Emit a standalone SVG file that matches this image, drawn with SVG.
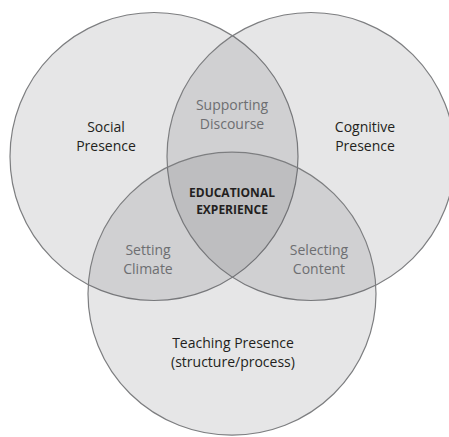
<svg xmlns="http://www.w3.org/2000/svg" width="449" height="437" viewBox="0 0 449 437">
<style>
.c{fill:#58595b;fill-opacity:0.15;stroke:#7d7e80;stroke-width:1.2}
text{font-family:"Open Sans","Noto Sans","Liberation Sans",sans-serif;text-anchor:middle}
.m{font-size:14px;fill:#231f20}
.s{font-size:14px;fill:#6d6e71}
.b{font-size:12px;font-weight:bold;fill:#231f20}
</style>
<rect width="449" height="437" fill="#ffffff"/>
<g id="social"><circle class="c" cx="154" cy="156.5" r="144"/></g>
<g id="cognitive"><circle class="c" cx="311" cy="156.5" r="144"/></g>
<g id="teaching"><ellipse class="c" cx="232" cy="293.7" rx="144" ry="141.5"/></g>
<g id="connectors"></g>
<g id="labels">
<g id="social-label"><text class="m" x="106" y="132">Social</text><text class="m" x="106" y="151">Presence</text></g>
<g id="cognitive-label"><text class="m" x="365" y="132">Cognitive</text><text class="m" x="365" y="151">Presence</text></g>
<g id="discourse"><text class="s" x="232" y="110">Supporting</text><text class="s" x="232" y="129">Discourse</text></g>
<g id="experience"><text class="b" x="232" y="197">EDUCATIONAL</text><text class="b" x="232" y="214">EXPERIENCE</text></g>
<g id="climate"><text class="s" x="148" y="255">Setting</text><text class="s" x="148" y="274">Climate</text></g>
<g id="content"><text class="s" x="319" y="255">Selecting</text><text class="s" x="319" y="274">Content</text></g>
<g id="teaching-label"><text class="m" x="233" y="348">Teaching Presence</text><text class="m" x="233" y="367">(structure/process)</text></g>
</g>
</svg>
